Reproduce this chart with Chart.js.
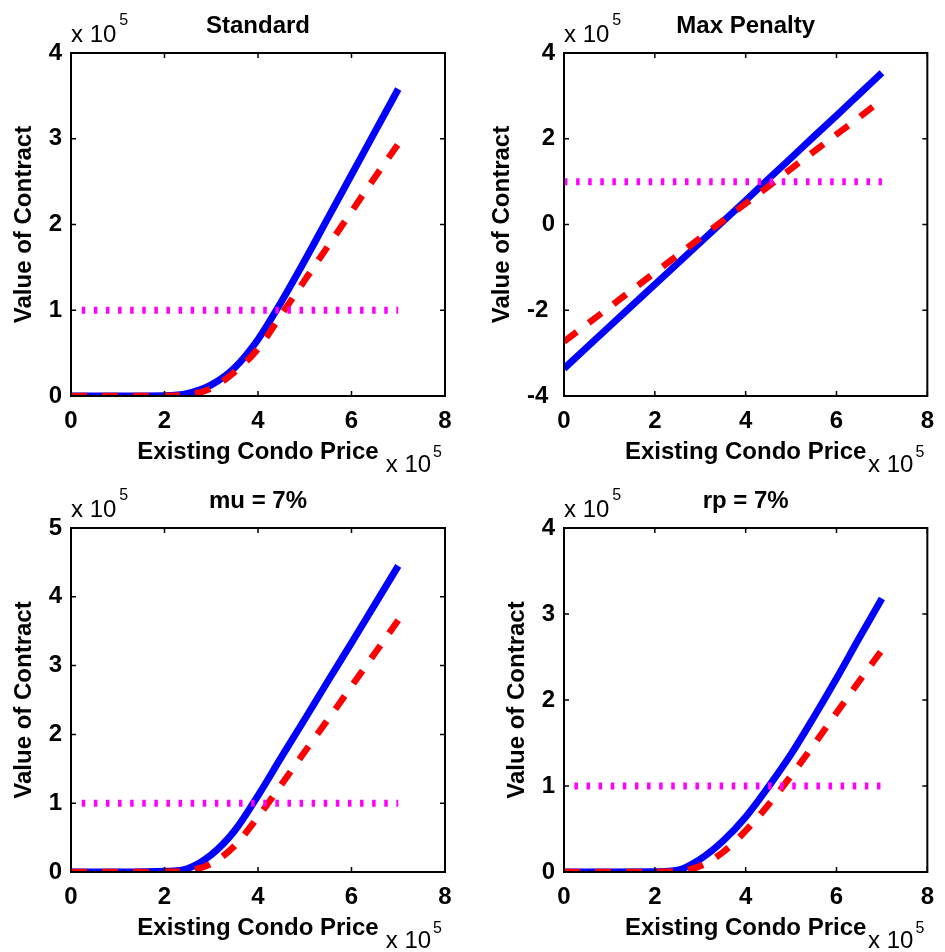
<!DOCTYPE html>
<html lang="en">
<head>
    <meta charset="UTF-8">
    <title>Value of Contract</title>
    <style>
        body { margin: 0; background: #fff; }
        .panel { position: absolute; }
        .panel canvas { display: block; }
    </style>
</head>
<body>
    <div class="panel" style="left:0;top:0"><canvas id="standard" width="472" height="475"></canvas></div>
    <div class="panel" style="left:472px;top:0"><canvas id="penalty" width="473" height="475"></canvas></div>
    <div class="panel" style="left:0;top:475px"><canvas id="mu" width="472" height="477"></canvas></div>
    <div class="panel" style="left:472px;top:475px"><canvas id="rp" width="473" height="477"></canvas></div>

    <script src="https://cdn.jsdelivr.net/npm/chart.js"></script>
    <script>
    // all values are in units of 10^5 (axes show "x 10^5")
    const priceX = [0, 1, 2, 2.5, 3, 3.5, 4, 4.5, 5, 5.5, 6, 6.5, 7];

    const standardBlue = [0, 0, 0.003, 0.03, 0.13, 0.33, 0.66, 1.10, 1.58, 2.08, 2.58, 3.08, 3.58];
    const standardRed  = [0, 0, 0.002, 0.015, 0.09, 0.28, 0.55, 0.95, 1.35, 1.75, 2.15, 2.55, 2.94];

    const penaltyBlue = [-3.36, -2.38, -1.40, -0.91, -0.42, 0.07, 0.56, 1.06, 1.55, 2.05, 2.54, 3.04, 3.54];
    const penaltyRed  = [-2.73, -1.93, -1.12, -0.72, -0.31, 0.09, 0.49, 0.89, 1.30, 1.70, 2.10, 2.50, 2.91];

    const muBlue = [0, 0, 0.01, 0.05, 0.25, 0.60, 1.11, 1.67, 2.22, 2.78, 3.33, 3.89, 4.45];
    const muRed  = [0, 0, 0.003, 0.02, 0.12, 0.38, 0.80, 1.27, 1.75, 2.22, 2.70, 3.18, 3.66];

    const rpBlue = [0, 0, 0.003, 0.02, 0.15, 0.36, 0.64, 0.99, 1.37, 1.80, 2.25, 2.72, 3.18];
    const rpRed  = [0, 0, 0.002, 0.01, 0.07, 0.23, 0.48, 0.78, 1.12, 1.48, 1.85, 2.22, 2.58];

    // horizontal dotted reference line
    const thresholdLevel = 1;
    const thresholdEnd = 7;

    const panelTitles = ['Standard', 'Max Penalty', 'mu = 7%', 'rp = 7%'];
    const xTitle = 'Existing Condo Price';
    const yTitle = 'Value of Contract';
    const xTicks = { min: 0, max: 8, step: 2 };

    const FONT = '"Liberation Sans", Arial, Helvetica, sans-serif';
    Chart.defaults.font.family = FONT;
    Chart.defaults.color = '#000';

    // box, inward ticks, titles and exponent labels like the original figure
    const matlabAxes = {
        id: 'matlabAxes',
        afterDraw(chart, args, opts) {
            const ctx = chart.ctx;
            const a = chart.chartArea;
            const x = chart.scales.x, y = chart.scales.y;
            ctx.save();
            ctx.strokeStyle = '#000';
            ctx.lineWidth = 1.5;
            ctx.beginPath();
            x.ticks.forEach(t => {
                const px = x.getPixelForValue(t.value);
                ctx.moveTo(px, a.bottom); ctx.lineTo(px, a.bottom - 5);
                ctx.moveTo(px, a.top); ctx.lineTo(px, a.top + 5);
            });
            y.ticks.forEach(t => {
                const py = y.getPixelForValue(t.value);
                ctx.moveTo(a.left, py); ctx.lineTo(a.left + 5, py);
                ctx.moveTo(a.right, py); ctx.lineTo(a.right - 5, py);
            });
            ctx.stroke();
            ctx.lineWidth = 2;
            ctx.strokeRect(a.left, a.top, a.right - a.left, a.bottom - a.top);

            const cx = (a.left + a.right) / 2;
            ctx.fillStyle = '#000';
            ctx.textBaseline = 'alphabetic';
            ctx.font = 'bold 24px ' + FONT;
            ctx.textAlign = 'center';
            ctx.fillText(opts.title, cx, a.top - 20);
            ctx.fillText(xTitle, cx, a.bottom + 63);

            let maxW = 0;
            y.ticks.forEach(t => { maxW = Math.max(maxW, ctx.measureText(t.label).width); });
            ctx.save();
            ctx.translate(a.left - 9 - maxW - 18, (a.top + a.bottom) / 2);
            ctx.rotate(-Math.PI / 2);
            ctx.fillText(yTitle, 0, 0);
            ctx.restore();

            // "x 10^5" above the y axis
            ctx.textAlign = 'left';
            ctx.font = '24px ' + FONT;
            const w = ctx.measureText('x 10').width;
            ctx.fillText('x 10', a.left, a.top - 11);
            ctx.font = '16px ' + FONT;
            ctx.fillText('5', a.left + w + 3, a.top - 28);

            // "x 10^5" below the x axis
            ctx.textAlign = 'right';
            const w5 = ctx.measureText('5').width;
            ctx.fillText('5', a.right - 3, a.bottom + 61);
            ctx.font = '24px ' + FONT;
            ctx.fillText('x 10', a.right - 3 - w5 - 2, a.bottom + 76);
            ctx.restore();
        }
    };

    function makePanel(id, opts) {
        const canvas = document.getElementById(id);
        const tickFont = { size: 24, weight: 'bold' };
        return new Chart(canvas, {
            type: 'line',
            data: {
                datasets: [
                    {
                        data: priceX.map((p, i) => ({ x: p, y: opts.blue[i] })),
                        borderColor: '#0000ff',
                        borderWidth: 7,
                        order: 3
                    },
                    {
                        data: priceX.map((p, i) => ({ x: p, y: opts.red[i] })),
                        borderColor: '#ff0000',
                        borderWidth: 6.5,
                        borderDash: [16, 15],
                        order: 2
                    },
                    {
                        data: [{ x: opts.lineStart, y: thresholdLevel }, { x: thresholdEnd, y: thresholdLevel }],
                        borderColor: '#ff00ff',
                        borderWidth: 7,
                        borderDash: [3.5, 8.6],
                        order: 1
                    }
                ]
            },
            options: {
                responsive: false,
                devicePixelRatio: 1,
                animation: false,
                datasets: {
                    line: {
                        pointRadius: 0,
                        fill: false,
                        clip: 0,
                        cubicInterpolationMode: 'monotone',
                        borderCapStyle: 'butt'
                    }
                },
                layout: {
                    padding: { top: 53, right: opts.padRight, left: 0, bottom: 0 }
                },
                plugins: {
                    legend: { display: false },
                    tooltip: { enabled: false },
                    matlabAxes: { title: opts.title }
                },
                scales: {
                    x: {
                        type: 'linear',
                        min: xTicks.min,
                        max: xTicks.max,
                        grid: { display: false, drawTicks: false },
                        border: { display: false },
                        ticks: { stepSize: xTicks.step, font: tickFont, padding: 11, maxRotation: 0 },
                        afterFit: s => { s.height = opts.xHeight; }
                    },
                    y: {
                        min: opts.yMin,
                        max: opts.yMax,
                        grid: { display: false, drawTicks: false },
                        border: { display: false },
                        ticks: {
                            stepSize: opts.yStep,
                            font: tickFont,
                            padding: 9,
                            callback: v => (v < 0 ? v + ' ' : String(v))
                        },
                        afterFit: s => { s.width = opts.yWidth; }
                    }
                }
            },
            plugins: [matlabAxes]
        });
    }

    makePanel('standard', {
        title: panelTitles[0], blue: standardBlue, red: standardRed, lineStart: 0.23,
        yMin: 0, yMax: 4, yStep: 1, yWidth: 71, xHeight: 79, padRight: 27
    });
    makePanel('penalty', {
        title: panelTitles[1], blue: penaltyBlue, red: penaltyRed, lineStart: 0,
        yMin: -4, yMax: 4, yStep: 2, yWidth: 92, xHeight: 79, padRight: 7
    });
    makePanel('mu', {
        title: panelTitles[2], blue: muBlue, red: muRed, lineStart: 0.23,
        yMin: 0, yMax: 5, yStep: 1, yWidth: 71, xHeight: 80, padRight: 27
    });
    makePanel('rp', {
        title: panelTitles[3], blue: rpBlue, red: rpRed, lineStart: 0.23,
        yMin: 0, yMax: 4, yStep: 1, yWidth: 92, xHeight: 80, padRight: 7
    });
    </script>
</body>
</html>
